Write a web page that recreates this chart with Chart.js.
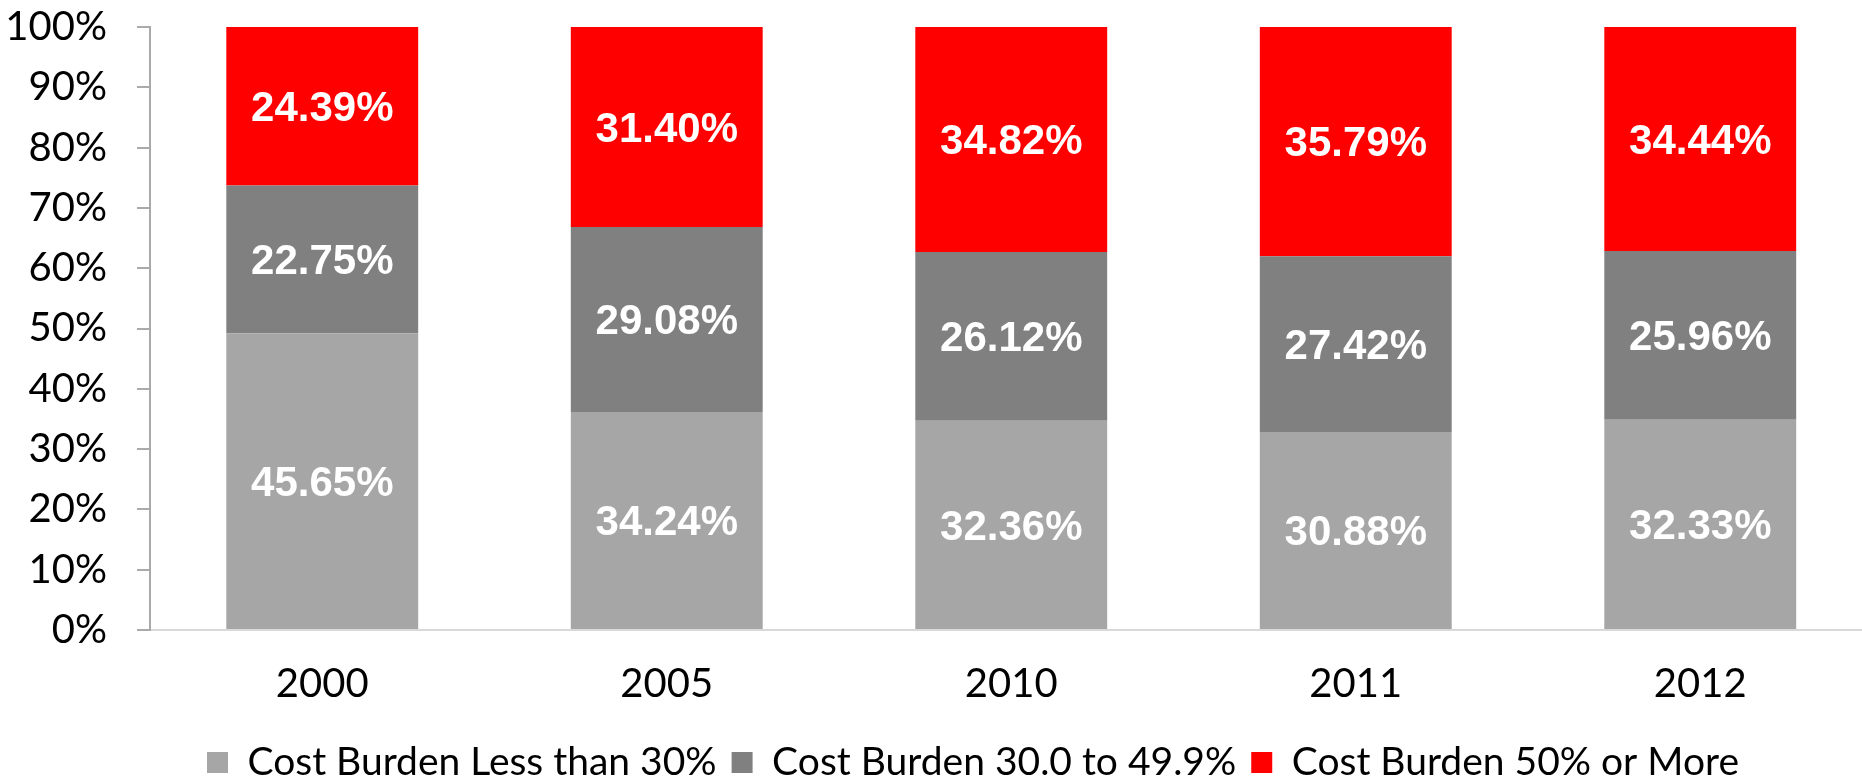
<!DOCTYPE html>
<html>
<head>
<meta charset="utf-8">
<script src="https://cdn.jsdelivr.net/npm/chart.js@4/dist/chart.umd.min.js"></script>
<style>
  html, body { margin: 0; padding: 0; background: #fff; overflow: hidden; }
  #wrap { width: 1946px; height: 781px; }
</style>
</head>
<body>
<div id="wrap"><canvas id="burdenChart" width="1946" height="781"></canvas></div>
<script>
// ===== Data =====
const years = ['2000', '2005', '2010', '2011', '2012'];
const lessThan30 = [45.65, 34.24, 32.36, 30.88, 32.33];
const from30to49 = [22.75, 29.08, 26.12, 27.42, 25.96];
const over50 = [24.39, 31.40, 34.82, 35.79, 34.44];
const seriesNames = ['Cost Burden Less than 30%', 'Cost Burden 30.0 to 49.9%', 'Cost Burden 50% or More'];
const seriesColors = ['#a6a6a6', '#808080', '#ff0000'];
const yTicks = [0, 10, 20, 30, 40, 50, 60, 70, 80, 90, 100];

const rawSeries = [lessThan30, from30to49, over50];

// 100% stacked: each bar is scaled to the year's total
const totals = years.map((y, i) => rawSeries.reduce((s, arr) => s + arr[i], 0));
const share = arr => arr.map((v, i) => v / totals[i] * 100);

const axisFont = '"Lato", "Open Sans", sans-serif';

// ===== Value labels inside each segment =====
const segmentLabels = {
  id: 'segmentLabels',
  afterDatasetsDraw(chart) {
    const ctx = chart.ctx;
    ctx.save();
    ctx.font = 'bold 42px "Liberation Sans", Arial, sans-serif';
    ctx.fillStyle = '#ffffff';
    ctx.textAlign = 'center';
    ctx.textBaseline = 'middle';
    rawSeries.forEach((arr, i) => {
      chart.getDatasetMeta(i).data.forEach((bar, j) => {
        const y = (bar.y + bar.base) / 2 + 3;
        ctx.fillText(arr[j].toFixed(2) + '%', bar.x, y);
      });
    });
    ctx.restore();
  }
};

new Chart(document.getElementById('burdenChart'), {
  type: 'bar',
  data: {
    labels: years,
    datasets: rawSeries.map((arr, i) => ({
      label: seriesNames[i],
      data: share(arr),
      backgroundColor: seriesColors[i],
      borderWidth: 0,
      categoryPercentage: 1,
      barPercentage: 0.557
    }))
  },
  options: {
    responsive: false,
    animation: false,
    layout: { padding: { top: 27, bottom: -11 } },
    plugins: {
      legend: {
        position: 'bottom',
        labels: {
          font: { family: axisFont, size: 39 },
          color: '#000',
          boxWidth: 21,
          boxHeight: 21,
          padding: 15
        }
      },
      tooltip: { enabled: false }
    },
    scales: {
      x: {
        stacked: true,
        afterFit: s => { s.height = 98; },
        grid: { display: false },
        border: { display: true, color: '#d9d9d9', width: 2 },
        ticks: { font: { family: axisFont, size: 40 }, color: '#000', padding: 22 }
      },
      y: {
        stacked: true,
        min: 0,
        max: 100,
        afterBuildTicks: s => { s.ticks = yTicks.map(v => ({ value: v })); },
        afterFit: s => { s.width = 150; s.paddingTop = 0; s.paddingBottom = 0; },
        grid: { drawOnChartArea: false, drawTicks: true, tickLength: 13, color: '#aaaaaa', lineWidth: 2 },
        border: { display: true, color: '#aaaaaa', width: 2 },
        ticks: {
          font: { family: axisFont, size: 40 },
          color: '#000',
          padding: 30,
          callback: v => v + '%'
        }
      },
      // empty right axis: keeps the plot running past the window edge like the original
      yPad: {
        position: 'right',
        display: true,
        grid: { display: false },
        border: { display: false },
        ticks: { display: false },
        afterFit: s => { s.width = 73.5; s.paddingTop = 0; s.paddingBottom = 0; }
      }
    }
  },
  plugins: [segmentLabels]
});
</script>
</body>
</html>
